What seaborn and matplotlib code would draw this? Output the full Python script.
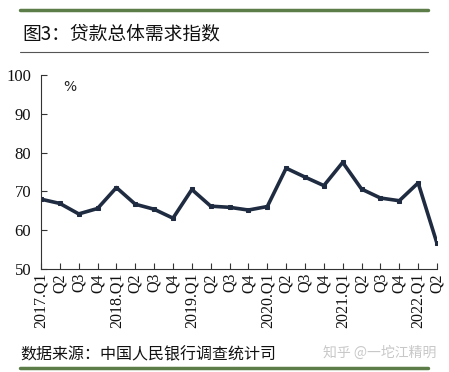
import numpy as np
import pandas as pd
import seaborn as sns
import matplotlib.pyplot as plt
from matplotlib.lines import Line2D

# quarters 2017Q1 .. 2022Q2
quarters = ['2017.Q1', 'Q2', 'Q3', 'Q4',
            '2018.Q1', 'Q2', 'Q3', 'Q4',
            '2019.Q1', 'Q2', 'Q3', 'Q4',
            '2020.Q1', 'Q2', 'Q3', 'Q4',
            '2021.Q1', 'Q2', 'Q3', 'Q4',
            '2022.Q1', 'Q2']
demand_index = [68.0, 66.9, 64.2, 65.6,
                71.0, 66.7, 65.4, 63.1,
                70.5, 66.2, 65.9, 65.2,
                66.1, 76.0, 73.7, 71.5,
                77.5, 70.6, 68.3, 67.6,
                72.2, 56.6]
y_ticks = [50, 60, 70, 80, 90, 100]

title_text = '图3：贷款总体需求指数'
source_text = '数据来源：中国人民银行调查统计司'
watermark = '知乎 @一坨江精明'

sns.set_style('ticks')
plt.rcParams['font.family'] = ['Noto Sans CJK SC', 'DejaVu Sans']

df = pd.DataFrame({'pos': np.arange(len(quarters)), 'value': demand_index})

fig = plt.figure(figsize=(4.49, 3.72), dpi=100)
ax = fig.add_axes([0.0913, 0.277, 0.882, 0.521])
line_col = '#1f2b40'
sns.lineplot(data=df, x='pos', y='value', ax=ax, color=line_col, linewidth=2.6,
             marker='s', markersize=3, markeredgecolor=line_col)

ax.set_xlim(0, len(quarters) - 1)
ax.set_ylim(50, 100)
ax.set_yticks(y_ticks)
ax.set_xticks(df['pos'])
ax.set_xticklabels(quarters, rotation=90, family='Liberation Serif', fontsize=11.5,
                   color='#111111')
for lab in ax.get_yticklabels():
    lab.set_family('Liberation Serif')
    lab.set_fontsize(12)
    lab.set_color('#111111')
ax.tick_params(axis='both', direction='in', length=4, width=0.8, color='#333333', pad=3)
ax.tick_params(axis='y', pad=7)
ax.set_xlabel('')
ax.set_ylabel('')
sns.despine(ax=ax)
ax.spines['left'].set_color('#333333')
ax.spines['bottom'].set_color('#333333')
ax.text(0.055, 0.975, '%', transform=ax.transAxes, fontsize=10, va='top', ha='left',
        family='DejaVu Sans', color='#222222')

# header / footer decoration
green = '#5c7d48'
fig.add_artist(Line2D([20 / 449, 428 / 449], [1 - 10 / 372] * 2, color=green, lw=2.5))
fig.add_artist(Line2D([20 / 449, 428 / 449], [1 - 52 / 372] * 2, color='#555555', lw=0.8))
fig.add_artist(Line2D([20 / 449, 428 / 449], [1 - 368 / 372] * 2, color=green, lw=2.5))
fig.text(22 / 449, 1 - 34 / 372, title_text, fontsize=13.5, va='center', ha='left', color='#111111')
fig.text(20 / 449, 1 - 355 / 372, source_text, fontsize=11.5, va='center', ha='left', color='#111111')
fig.text(436 / 449, 1 - 353 / 372, watermark, fontsize=10, va='center', ha='right', color='#c8c8c8')

fig.savefig('out.png', dpi=100)
plt.close(fig)
